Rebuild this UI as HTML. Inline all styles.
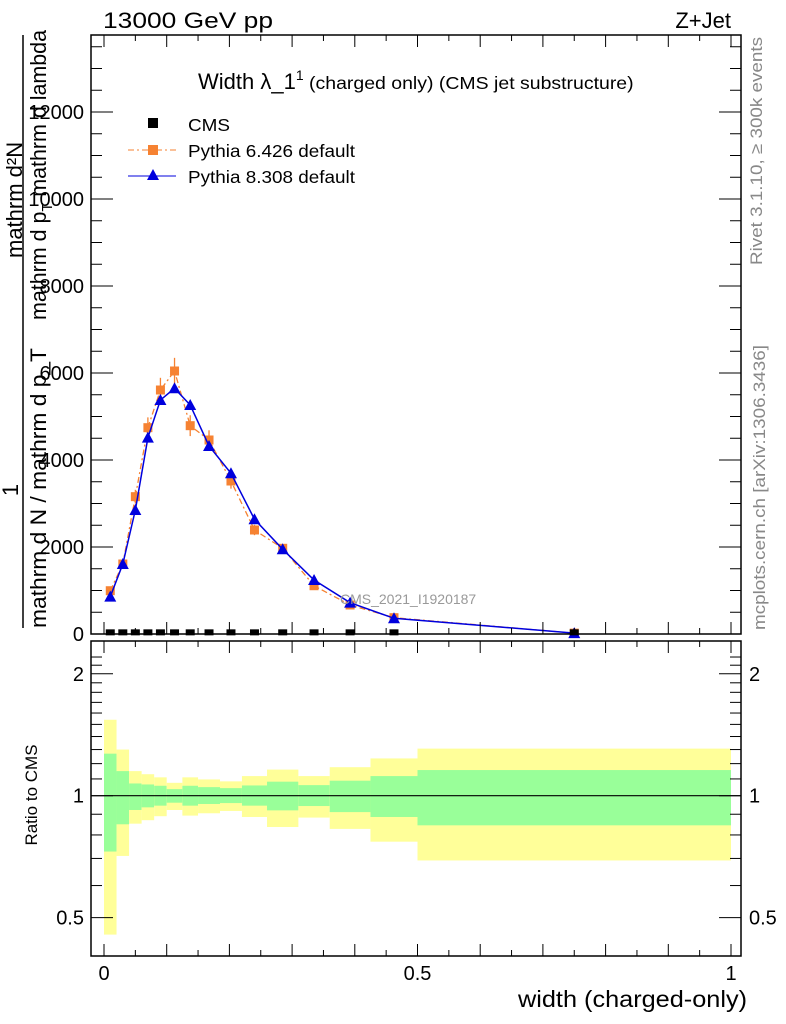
<!DOCTYPE html>
<html><head><meta charset="utf-8"><style>
html,body{margin:0;padding:0;background:#fff}
svg{display:block;font-family:"Liberation Sans",sans-serif}
</style></head><body>
<svg id="chart" width="786" height="1024" viewBox="0 0 786 1024">
<g id="ratio-bands"></g>
<g id="main-marks"></g>
<g id="axes"></g>
<text x="103" y="28" font-size="22" textLength="170" lengthAdjust="spacingAndGlyphs">13000 GeV pp</text>
<text x="731" y="28" font-size="22" text-anchor="end">Z+Jet</text>
<text x="198" y="89" font-size="22">Width λ_1<tspan dy="-9" font-size="14">1</tspan><tspan dy="9" font-size="17.5" textLength="330" lengthAdjust="spacingAndGlyphs"> (charged only) (CMS jet substructure)</tspan></text>
<g>
<rect x="148" y="118" width="10" height="10" fill="#000"/>
<text x="188" y="131" font-size="17.5" textLength="42" lengthAdjust="spacingAndGlyphs">CMS</text>
<line x1="128" y1="150" x2="176" y2="150" stroke="#f68232" stroke-dasharray="6,3,2,3"/>
<rect x="148" y="145" width="10" height="10" fill="#f68232"/>
<text x="188" y="157" font-size="17.5" textLength="167" lengthAdjust="spacingAndGlyphs">Pythia 6.426 default</text>
<line x1="128" y1="176" x2="176" y2="176" stroke="#0000dd"/>
<polygon points="153,169 159,180 147,180" fill="#0000dd"/>
<text x="188" y="183" font-size="17.5" textLength="167" lengthAdjust="spacingAndGlyphs">Pythia 8.308 default</text>
</g>
<text x="340" y="604" font-size="14" fill="#999">CMS_2021_I1920187</text>
<g font-size="22">
<text transform="translate(18,490) rotate(-90)" text-anchor="middle">1</text>
<line x1="23" y1="628" x2="23" y2="35" stroke="#000" stroke-width="1.5"/>
<text transform="translate(46,628) rotate(-90)" textLength="280" lengthAdjust="spacingAndGlyphs">mathrm d N / mathrm d p_T</text>
<text transform="translate(22,258) rotate(-90)">mathrm d²N</text>
<text transform="translate(46,320) rotate(-90)" textLength="290" lengthAdjust="spacingAndGlyphs">mathrm d p<tspan font-size="15" dy="6">T</tspan><tspan dy="-6"> mathrm d lambda</tspan></text>
</g>
<text transform="translate(762,265) rotate(-90)" font-size="17" textLength="228" lengthAdjust="spacingAndGlyphs" fill="#888">Rivet 3.1.10, ≥ 300k events</text>
<text transform="translate(765,630) rotate(-90)" font-size="17" textLength="285" lengthAdjust="spacingAndGlyphs" fill="#888">mcplots.cern.ch [arXiv:1306.3436]</text>
<text transform="translate(37,795) rotate(-90)" font-size="17" text-anchor="middle">Ratio to CMS</text>
<text x="747" y="1007" font-size="23" textLength="229" lengthAdjust="spacingAndGlyphs" text-anchor="end">width (charged-only)</text>
</svg>
<script>
const binEdges=[0,0.02,0.04,0.06,0.08,0.1,0.125,0.15,0.185,0.22,0.26,0.31,0.36,0.425,0.5,1];
const binCenters=[0.01,0.03,0.05,0.07,0.09,0.1125,0.1375,0.1675,0.2025,0.24,0.285,0.335,0.3925,0.4625,0.75];
const cmsValues=[15,15,15,15,15,15,15,15,15,15,15,15,15,15,15];
const py6Values=[995,1609,3157,4743,5609,6046,4789,4460,3517,2391,1970,1110,667,375,20];
const py8Values=[858,1609,2850,4513,5379,5648,5264,4322,3694,2637,1947,1241,720,361,20];
const yellowHi=[1.54,1.30,1.15,1.13,1.11,1.076,1.11,1.097,1.085,1.118,1.16,1.118,1.176,1.236,1.307];
const yellowLo=[0.454,0.71,0.853,0.87,0.89,0.922,0.893,0.905,0.917,0.886,0.837,0.883,0.828,0.77,0.692];
const greenHi=[1.27,1.15,1.072,1.066,1.058,1.038,1.058,1.05,1.044,1.06,1.083,1.062,1.089,1.118,1.157];
const greenLo=[0.728,0.85,0.922,0.936,0.945,0.961,0.945,0.954,0.959,0.945,0.92,0.943,0.911,0.886,0.845];
const yTicks=[0,2000,4000,6000,8000,10000,12000];
const yTickLabels=["0","2000","4000","6000","8000","10000","12000"];
const rTicks=[0.5,1,2];
const rTickLabels=["0.5","1","2"];
const xTicks=[0,0.5,1];
const xTickLabels=["0","0.5","1"];
const NS="http://www.w3.org/2000/svg";
const L=91,R=741,T=35,B=634,RT=641,RB=956;
const X=v=>104+v*627;
const Y=v=>634-v*0.0435;
const RY=v=>795.7-Math.log10(v)*405;
function mk(p,tag,a){const e=document.createElementNS(NS,tag);for(const k in a)e.setAttribute(k,a[k]);p.appendChild(e);return e;}
const bands=document.getElementById('ratio-bands');
const marks=document.getElementById('main-marks');
const axes=document.getElementById('axes');
for(let i=0;i<binCenters.length;i++){
 const x0=X(binEdges[i]),x1=X(binEdges[i+1]);
 const y=mk(bands,'rect',{x:x0,y:RY(yellowHi[i]),width:x1-x0,height:RY(yellowLo[i])-RY(yellowHi[i]),fill:'#ffff99'});
 
 
 const g=mk(bands,'rect',{x:x0,y:RY(greenHi[i]),width:x1-x0,height:RY(greenLo[i])-RY(greenHi[i]),fill:'#99ff99'});
 
 
}
const ref=mk(bands,'line',{x1:L,x2:R,y1:RY(1),y2:RY(1),stroke:'#000','stroke-width':1.2});


const p6=mk(marks,'polyline',{points:binCenters.map((c,i)=>X(c)+','+Y(py6Values[i])).join(' '),fill:'none',stroke:'#f68232','stroke-width':1.3,'stroke-dasharray':'6,3,2,3'});


binCenters.forEach((c,i)=>{
 const v=py6Values[i],e=v*0.05;
 const eb=mk(marks,'line',{x1:X(c),x2:X(c),y1:Y(v+e),y2:Y(v-e),stroke:'#f68232','stroke-width':1.3});
 
 
 const r=mk(marks,'rect',{x:X(c)-4.5,y:Y(v)-4.5,width:9,height:9,fill:'#f68232'});
 
 
});
const p8=mk(marks,'polyline',{points:binCenters.map((c,i)=>X(c)+','+Y(py8Values[i])).join(' '),fill:'none',stroke:'#0000dd','stroke-width':1.5});


binCenters.forEach((c,i)=>{
 const x=X(c),y=Y(py8Values[i]);
 const t=mk(marks,'polygon',{points:`${x},${y-6} ${x+6},${y+5} ${x-6},${y+5}`,fill:'#0000dd'});
 
 
});
binCenters.forEach((c,i)=>{
 const r=mk(marks,'rect',{x:X(c)-4.5,y:Y(cmsValues[i])-4,width:9,height:6,fill:'#000'});
 
 
});
[[T,B],[RT,RB]].forEach(([t,b])=>{
 const f=mk(axes,'rect',{x:L,y:t,width:R-L,height:b-t,fill:'none',stroke:'#000','stroke-width':1.5});
 
 
 for(let v=0;v<=1.0001;v+=0.05){
  const maj=Math.abs(v*10-Math.round(v*10))<1e-6,len=maj?12:6;
  mk(axes,'line',{x1:X(v),x2:X(v),y1:b,y2:b-len,stroke:'#000'});
  mk(axes,'line',{x1:X(v),x2:X(v),y1:t,y2:t+len,stroke:'#000'});
 }
});
for(let v=0;v<=13500;v+=500){
 const maj=v%2000===0,len=maj?22:11,y=Y(v);
 if(y<T)break;
 mk(axes,'line',{x1:L,x2:L+len,y1:y,y2:y,stroke:'#000'});
 mk(axes,'line',{x1:R,x2:R-len,y1:y,y2:y,stroke:'#000'});
}
yTicks.forEach((v,i)=>{
 const t=mk(axes,'text',{x:84,y:Y(v)+7,'font-size':20,'text-anchor':'end'});
 t.textContent=yTickLabels[i];
 
 
});
for(let v=0.4;v<=2.3;v+=0.1){
 const y=RY(v);if(y<RT||y>RB)continue;
 const maj=[0.5,1,2].some(m=>Math.abs(m-v)<1e-6),len=maj?22:11;
 mk(axes,'line',{x1:L,x2:L+len,y1:y,y2:y,stroke:'#000'});
 mk(axes,'line',{x1:R,x2:R-len,y1:y,y2:y,stroke:'#000'});
}
rTicks.forEach((v,i)=>{
 const t=mk(axes,'text',{x:84,y:RY(v)+7,'font-size':20,'text-anchor':'end'});
 t.textContent=rTickLabels[i];
 
 
 const t2=mk(axes,'text',{x:749,y:RY(v)+7,'font-size':20});
 t2.textContent=rTickLabels[i];
 
 
});
xTicks.forEach((v,i)=>{
 const t=mk(axes,'text',{x:X(v),y:980,'font-size':20,'text-anchor':'middle'});
 t.textContent=xTickLabels[i];
 
 
});
</script>
</body></html>
